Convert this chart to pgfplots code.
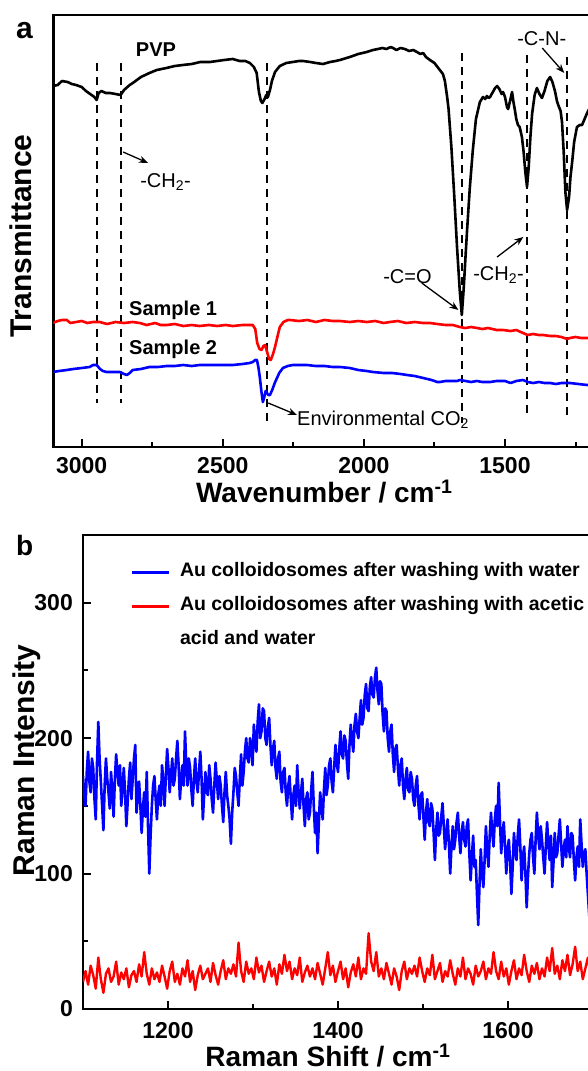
\documentclass[border=0pt]{standalone}
\usepackage{fontspec}
\setmainfont{Liberation Sans}
\usepackage{pgfplots}
\pgfplotsset{compat=1.18}
\usetikzlibrary{arrows.meta}

\pgfplotsset{
  panel/.style={
    scale only axis,
    axis line style={line width=2.8pt},
    tick style={line width=2pt, black},
    major tick length=8pt,
    minor tick length=5pt,
    tick align=inside,
    xtick pos=bottom,
    ytick pos=left,
    /pgf/number format/assume math mode=true,
    /pgf/number format/1000 sep={},
    tick label style={font=\fontsize{23}{23}\selectfont\bfseries},
    label style={font=\fontsize{28}{28}\selectfont\bfseries},
    ylabel style={font=\fontsize{30}{30}\selectfont\bfseries},
  },
}
\tikzset{
  note/.style={font=\fontsize{20}{20}\selectfont, inner sep=0pt, anchor=base west},
  tag/.style={font=\fontsize{20}{20}\selectfont\bfseries, inner sep=0pt},
  pointer/.style={-{Stealth[length=9pt,width=7pt]}, line width=1.3pt},
  guide/.style={black, line width=1.8pt, dash pattern=on 8pt off 6pt},
}

\begin{document}
\begin{tikzpicture}[trim left=0pt, trim right=587pt]
\path (0pt,0pt) rectangle (587pt,-1071pt);

% ---------------- (a) FTIR ----------------
\begin{axis}[panel,
  at={(53.5pt,-447pt)}, anchor=south west,
  width=592.6pt, height=432pt,
  x dir=reverse, xmin=1000, xmax=3100,
  ymin=0, ymax=432, ytick=\empty,
  xtick={1500,2000,2500,3000},
  minor xtick={1250,1750,2250,2750},
  xticklabel style={anchor=north, inner sep=0pt},
  xticklabel shift=10pt,
  xlabel={Wavenumber / cm\textsuperscript{-1}},
  xlabel style={at={(axis description cs:0.457,-0.1296)}, anchor=base},
  ylabel={Transmittance},
  ylabel style={at={(axis description cs:-0.0363,0.488)}, anchor=base},
  clip=true,
]
% guide lines at the band positions
\addplot[guide] coordinates {(2947,384) (2947,44)};
\addplot[guide] coordinates {(2862,384) (2862,44)};
\addplot[guide] coordinates {(2344,384) (2344,25)};
\addplot[guide] coordinates {(1653,394) (1653,24)};
\addplot[guide] coordinates {(1422,392) (1422,32)};
\addplot[guide] coordinates {(1280,390) (1280,30)};

% PVP
\addplot[black, line width=2.6pt, line join=round] coordinates {
(3130,360)(3103,361)(3085,362)(3070,366)(3050,365)(3035,363)(3020,362)(3000,360)(2985,356)(2965,352)(2955,350)(2947,347)(2940,354)(2930,356)(2915,354)(2900,354)(2880,353)(2862,352)(2850,357)(2830,362)(2819,364)(2790,370)(2760,374)(2734,377)(2700,379)(2670,381)(2642,382)(2610,383)(2580,385)(2546,385)(2520,386)(2495,387)(2465,388)(2440,386)(2420,386)(2404,384)(2390,380)(2380,374)(2372,355)(2365,346)(2360,344)(2352,348)(2346,352)(2340,350)(2332,358)(2326,366)(2315,375)(2298,381)(2275,384)(2252,385)(2230,386)(2216,386)(2190,385)(2170,384)(2145,383)(2120,385)(2100,386)(2085,387)(2050,390)(2020,393)(1990,395)(1968,397)(1950,398)(1935,399)(1920,398)(1905,400)(1897,399)(1885,397)(1870,399)(1855,398)(1840,396)(1825,397)(1812,395)(1800,393)(1790,394)(1780,390)(1766,387)(1750,384)(1731,377)(1720,373)(1713,366)(1705,350)(1700,338)(1690,300)(1680,252)(1670,200)(1660,155)(1653,132)(1646,160)(1640,190)(1635,214)(1625,258)(1614,297)(1603,328)(1589,345)(1578,350)(1570,348)(1564,351)(1558,349)(1553,350)(1545,354)(1535,359)(1528,361)(1520,358)(1512,353)(1507,355)(1500,350)(1493,340)(1489,338)(1482,346)(1475,355)(1470,345)(1465,337)(1460,328)(1454,322)(1448,320)(1440,310)(1434,295)(1428,275)(1422,260)(1416,280)(1410,310)(1404,333)(1395,352)(1387,359)(1378,353)(1369,349)(1360,356)(1350,366)(1340,370)(1332,365)(1323,356)(1316,346)(1310,341)(1303,336)(1298,325)(1292,295)(1286,255)(1280,237)(1273,250)(1268,270)(1262,285)(1255,305)(1245,320)(1235,322)(1227,322)(1218,328)(1209,334)(1195,342)(1180,348)(1150,352)(1100,356)(1000,360)
};

% Sample 1
\addplot[red, line width=2.6pt, line join=round] coordinates {
(3130,124)(3103,124)(3085,126)(3070,127)(3053,127)(3040,124)(3020,125)(3000,126)(2980,124)(2960,125)(2936,125)(2910,123)(2880,125)(2850,124)(2820,125)(2794,124)(2770,122)(2740,124)(2720,122)(2699,122)(2670,123)(2640,121)(2610,122)(2582,121)(2550,122)(2520,121)(2490,122)(2465,121)(2430,122)(2405,122)(2394,122)(2385,118)(2378,104)(2370,98)(2363,97)(2356,101)(2350,102)(2343,95)(2336,88)(2330,87)(2322,93)(2315,100)(2305,112)(2298,120)(2285,125)(2270,127)(2262,127)(2230,126)(2200,127)(2170,125)(2140,127)(2110,126)(2085,126)(2050,125)(2020,126)(1990,125)(1960,126)(1930,124)(1908,125)(1880,126)(1850,124)(1820,125)(1790,124)(1766,124)(1740,123)(1710,122)(1685,122)(1660,120)(1640,119)(1620,120)(1599,119)(1580,118)(1560,119)(1530,117)(1507,117)(1480,116)(1460,117)(1436,114)(1420,112)(1400,113)(1380,112)(1365,112)(1340,111)(1320,111)(1300,110)(1280,108)(1270,109)(1250,110)(1230,109)(1209,109)(1150,108)(1000,108)
};

% Sample 2
\addplot[blue, line width=2.6pt, line join=round] coordinates {
(3130,75)(3103,75)(3080,76)(3053,77)(3030,78)(3000,79)(2972,80)(2960,82)(2947,82)(2935,78)(2925,76)(2911,75)(2890,75)(2865,75)(2850,73)(2840,72)(2830,74)(2819,77)(2790,78)(2760,80)(2730,80)(2699,81)(2670,81)(2640,82)(2610,81)(2582,82)(2550,82)(2520,82)(2490,82)(2465,82)(2430,83)(2405,84)(2394,85)(2385,87)(2379,87)(2374,80)(2369,70)(2363,55)(2358,45)(2353,50)(2348,56)(2344,54)(2338,52)(2333,52)(2325,57)(2316,64)(2300,74)(2287,79)(2270,81)(2252,82)(2230,82)(2202,82)(2170,81)(2140,81)(2110,80)(2085,80)(2050,79)(2020,77)(1990,76)(1968,75)(1930,74)(1900,74)(1870,73)(1847,72)(1820,71)(1790,69)(1760,67)(1740,65)(1731,65)(1710,66)(1690,66)(1670,66)(1660,67)(1640,66)(1620,65)(1600,66)(1580,65)(1553,65)(1530,66)(1500,66)(1480,64)(1460,66)(1436,67)(1420,65)(1400,64)(1380,65)(1360,64)(1340,64)(1320,63)(1300,64)(1270,64)(1240,63)(1209,62)(1150,61)(1000,60)
};

% curve names
\node[tag] at (axis cs:2737,397) {PVP};
\node[tag] at (axis cs:2676,137) {Sample 1};
\node[tag] at (axis cs:2676,98) {Sample 2};

% band assignments
\node[note] at (axis cs:2793,260) {-CH\textsubscript{2}-};
\draw[pointer] (axis cs:2853,295) -- (axis cs:2765,284);
\node[note] at (axis cs:1932,164) {-C=O};
\draw[pointer] (axis cs:1795,164) -- (axis cs:1665,137);
\node[note] at (axis cs:1613,167) {-CH\textsubscript{2}-};
\draw[pointer] (axis cs:1528,190) -- (axis cs:1435,210);
\node[note] at (axis cs:1457,402) {-C-N-};
\draw[pointer] (axis cs:1368,399) -- (axis cs:1290,374);
\node[note] at (axis cs:2237,22) {Environmental CO\textsubscript{2}};
\draw[pointer] (axis cs:2339,44) -- (axis cs:2237,32);
\end{axis}

% ---------------- (b) Raman ----------------
\begin{axis}[panel,
  at={(83pt,-1009pt)}, anchor=south west,
  width=595pt, height=474pt,
  xmin=1100, xmax=1800, ymin=0, ymax=350,
  xtick={1200,1400,1600}, minor xtick={1300,1500,1700},
  ytick={0,100,200,300}, minor ytick={50,150,250},
  xticklabel style={anchor=north, inner sep=0pt},
  xticklabel shift=13pt,
  yticklabel style={anchor=east, inner sep=0pt},
  yticklabel shift=10pt,
  xlabel={Raman Shift / cm\textsuperscript{-1}},
  xlabel style={at={(axis description cs:0.4118,-0.1203)}, anchor=base},
  ylabel={Raman Intensity},
  ylabel style={at={(axis description cs:-0.0807,0.525)}, anchor=base},
  legend style={at={(axis description cs:0.079,0.941)}, anchor=north west,
    draw=none, fill=none, inner sep=0pt, outer sep=0pt,
    row sep=15pt, column sep=10pt,
    nodes={inner sep=0pt, text height=14pt, text depth=5pt},
    font=\fontsize{19.5}{19.5}\selectfont\bfseries},
  legend cell align=left,
  legend image code/.code={\draw[#1, line width=3pt] (0pt,0pt) -- (37pt,0pt);},
  clip=true,
]
\addplot[blue, line width=2.6pt, line join=round] table {
1100 172
1101.5 158
1103 150
1104.5 176
1106 190
1107.5 168
1109 160
1110.5 185
1112 178
1113.5 155
1115 140
1116.5 182
1118 212
1119.5 185
1121 168
1122.5 150
1124 132
1125.5 165
1127 185
1128.5 170
1130 160
1131.5 148
1133 175
1134.5 160
1136 142
1137.5 170
1139 188
1140.5 175
1142 165
1143.5 180
1145 150
1146.5 162
1148 178
1149.5 160
1151 135
1152.5 152
1154 170
1155.5 182
1157 155
1158.5 170
1160 185
1161.5 195
1163 145
1164.5 158
1166 168
1167.5 150
1169 130
1170.5 148
1172 160
1173.5 142
1175 175
1176.5 135
1178 100
1179.5 128
1181 150
1182.5 165
1184 172
1185.5 155
1187 140
1188.5 158
1190 165
1191.5 150
1193 180
1194.5 168
1196 150
1197.5 172
1199 192
1200.5 178
1202 160
1203.5 172
1205 185
1206.5 165
1208 170
1209.5 185
1211 198
1212.5 180
1214 155
1215.5 170
1217 180
1218.5 165
1220 205
1221.5 180
1223 165
1224.5 185
1226 178
1227.5 162
1229 150
1230.5 170
1232 185
1233.5 168
1235 160
1236.5 175
1238 190
1239.5 170
1241 140
1242.5 158
1244 175
1245.5 160
1247 158
1248.5 180
1250 170
1251.5 155
1253 145
1254.5 165
1256 182
1257.5 168
1259 155
1260.5 172
1262 165
1263.5 150
1265 138
1266.5 160
1268 175
1269.5 158
1271 150
1272.5 140
1274 122
1275.5 145
1277 160
1278.5 178
1280 172
1281.5 160
1283 150
1284.5 170
1286 188
1287.5 165
1289 175
1290.5 190
1292 200
1293.5 185
1295 182
1296.5 200
1298 195
1299.5 180
1301 210
1302.5 198
1304 190
1305.5 212
1307 225
1308.5 200
1310 205
1311.5 222
1313 220
1314.5 200
1316 195
1317.5 208
1319 215
1320.5 195
1322 180
1323.5 192
1325 198
1326.5 178
1328 170
1329.5 185
1331 190
1332.5 168
1334 160
1335.5 175
1337 178
1338.5 160
1340 150
1341.5 165
1343 172
1344.5 155
1346 140
1347.5 158
1349 165
1350.5 150
1352 180
1353.5 162
1355 148
1356.5 160
1358 170
1359.5 150
1361 135
1362.5 155
1364 160
1365.5 140
1367 145
1368.5 162
1370 175
1371.5 150
1373 130
1374.5 145
1376 115
1377.5 138
1379 160
1380.5 150
1382 140
1383.5 162
1385 178
1386.5 158
1388 165
1389.5 180
1391 185
1392.5 168
1394 160
1395.5 178
1397 195
1398.5 182
1400 175
1401.5 192
1403 205
1404.5 188
1406 185
1407.5 202
1409 198
1410.5 182
1412 170
1413.5 195
1415 210
1416.5 198
1418 190
1419.5 210
1421 218
1422.5 205
1424 200
1425.5 215
1427 228
1428.5 210
1430 215
1431.5 232
1433 240
1434.5 222
1436 220
1437.5 238
1439 245
1440.5 232
1442 230
1443.5 245
1445 252
1446.5 235
1448 225
1449.5 242
1451 240
1452.5 218
1454 205
1455.5 222
1457 220
1458.5 200
1460 190
1461.5 205
1463 210
1464.5 188
1466 175
1467.5 192
1469 195
1470.5 178
1472 165
1473.5 180
1475 185
1476.5 165
1478 155
1479.5 170
1481 178
1482.5 162
1484 160
1485.5 175
1487 170
1488.5 155
1490 150
1491.5 165
1493 172
1494.5 152
1496 140
1497.5 158
1499 160
1500.5 142
1502 125
1503.5 145
1505 155
1506.5 138
1508 135
1509.5 152
1511 148
1512.5 130
1514 110
1515.5 132
1517 145
1518.5 128
1520 130
1521.5 142
1523 152
1524.5 135
1526 118
1527.5 130
1529 140
1530.5 122
1532 100
1533.5 120
1535 135
1536.5 118
1538 125
1539.5 138
1541 145
1542.5 128
1544 115
1545.5 130
1547 138
1548.5 125
1550 120
1551.5 135
1553 140
1554.5 115
1556 95
1557.5 112
1559 128
1560.5 105
1562 110
1563.5 85
1565 62
1566.5 92
1568 118
1569.5 100
1571 90
1572.5 110
1574 135
1575.5 118
1577 105
1578.5 128
1580 145
1581.5 130
1583 120
1584.5 140
1586 150
1587.5 135
1589 167
1590.5 140
1592 115
1593.5 128
1595 138
1596.5 120
1598 100
1599.5 118
1601 125
1602.5 108
1604 85
1605.5 105
1607 130
1608.5 118
1610 110
1611.5 128
1613 140
1614.5 120
1616 95
1617.5 112
1619 120
1620.5 100
1622 75
1623.5 98
1625 115
1626.5 125
1628 130
1629.5 112
1631 100
1632.5 125
1634 145
1635.5 128
1637 118
1638.5 135
1640 125
1641.5 112
1643 100
1644.5 120
1646 138
1647.5 122
1649 110
1650.5 128
1652 90
1653.5 108
1655 130
1656.5 112
1658 115
1659.5 128
1661 140
1662.5 122
1664 105
1665.5 118
1667 125
1668.5 112
1670 135
1671.5 120
1673 112
1674.5 130
1676 128
1677.5 110
1679 95
1680.5 112
1682 120
1683.5 105
1685 140
1686.5 122
1688 105
1689.5 115
1691 118
1692.5 100
1694 85
1695.5 70
1697 55
1698.5 75
1700 90
1703 100
1706 80
1709 95
1712 85
1715 100
1718 90
};
\addlegendentry{Au colloidosomes after washing with water}

\addplot[red, line width=2.4pt, line join=round] table {
1100 20
1103 28
1106 18
1109 32
1112 25
1115 15
1118 38
1121 22
1124 12
1127 26
1130 30
1133 20
1136 24
1139 35
1142 18
1145 27
1148 22
1151 30
1154 16
1157 25
1160 28
1163 20
1166 33
1169 24
1172 42
1175 26
1178 18
1181 30
1184 22
1187 27
1190 20
1193 32
1196 24
1199 15
1202 28
1205 35
1208 20
1211 26
1214 18
1217 30
1220 24
1223 36
1226 20
1229 28
1232 14
1235 25
1238 32
1241 22
1244 26
1247 30
1250 20
1253 34
1256 25
1259 18
1262 28
1265 36
1268 22
1271 30
1274 26
1277 33
1280 24
1283 49
1286 28
1289 20
1292 35
1295 26
1298 30
1301 22
1304 38
1307 27
1310 32
1313 20
1316 28
1319 35
1322 24
1325 30
1328 18
1331 33
1334 26
1337 40
1340 28
1343 35
1346 22
1349 30
1352 25
1355 38
1358 20
1361 27
1364 32
1367 24
1370 30
1373 22
1376 34
1379 26
1382 18
1385 30
1388 42
1391 25
1394 32
1397 20
1400 28
1403 35
1406 22
1409 30
1412 16
1415 27
1418 33
1421 24
1424 38
1427 22
1430 30
1433 26
1436 56
1439 35
1442 28
1445 42
1448 24
1451 30
1454 22
1457 34
1460 26
1463 18
1466 30
1469 24
1472 14
1475 28
1478 35
1481 22
1484 30
1487 26
1490 32
1493 24
1496 38
1499 28
1502 20
1505 30
1508 25
1511 40
1514 22
1517 28
1520 34
1523 20
1526 28
1529 24
1532 36
1535 26
1538 18
1541 30
1544 24
1547 38
1550 22
1553 30
1556 26
1559 18
1562 32
1565 24
1568 28
1571 35
1574 22
1577 30
1580 26
1583 42
1586 28
1589 22
1592 35
1595 24
1598 30
1601 18
1604 28
1607 36
1610 22
1613 30
1616 25
1619 40
1622 28
1625 20
1628 32
1631 26
1634 34
1637 22
1640 30
1643 24
1646 38
1649 28
1652 45
1655 26
1658 32
1661 22
1664 36
1667 28
1670 40
1673 25
1676 33
1679 46
1682 28
1685 35
1688 22
1691 30
1694 38
1697 26
1700 30
1703 24
1706 34
1709 28
1712 32
1715 26
1718 30
};
\addlegendentry{Au colloidosomes after washing with acetic}
\addlegendimage{empty legend}
\addlegendentry{acid and water}
\end{axis}

% panel letters
\node[anchor=base west, inner sep=0pt, font=\fontsize{30}{30}\selectfont\bfseries] at (16pt,-38pt) {a};
\node[anchor=base west, inner sep=0pt, font=\fontsize{28}{28}\selectfont\bfseries] at (16pt,-555pt) {b};
\end{tikzpicture}
\end{document}
